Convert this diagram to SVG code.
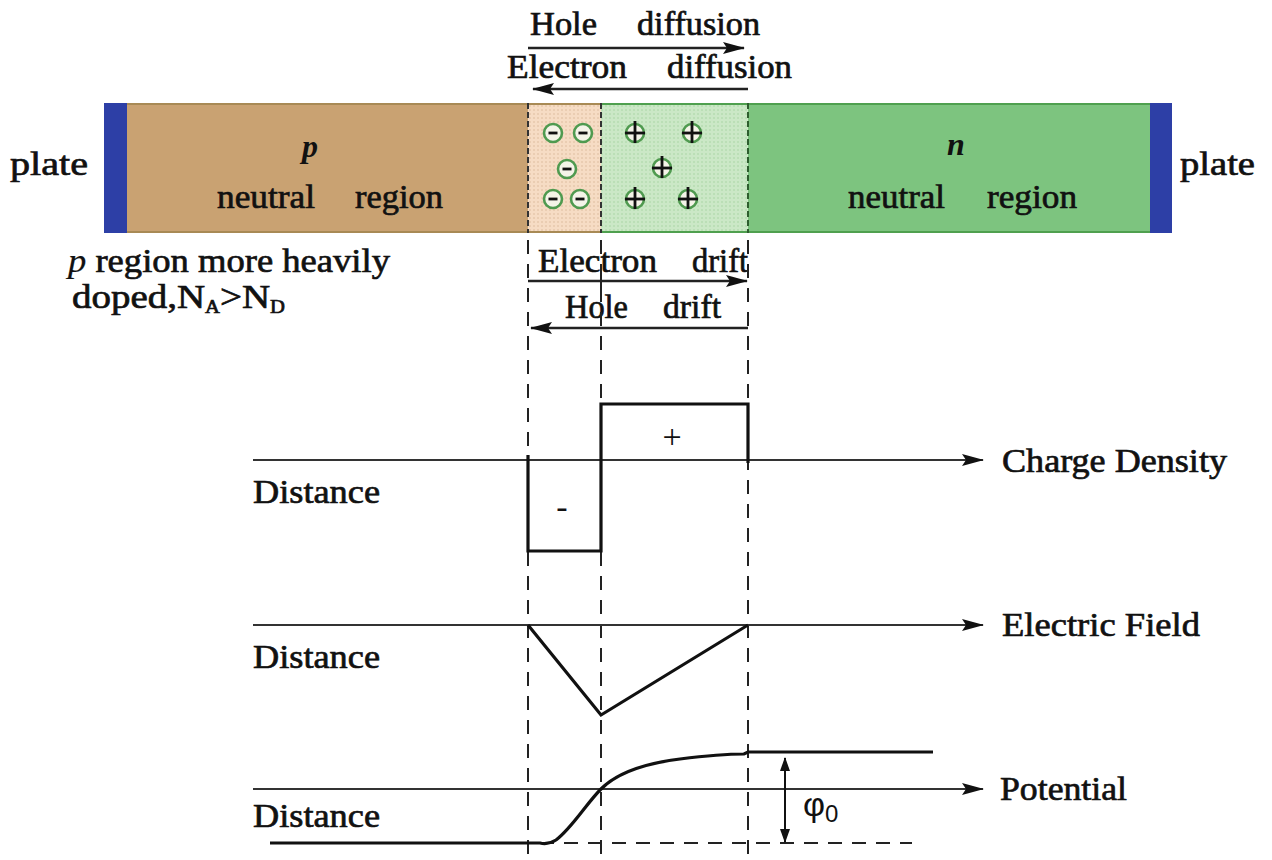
<svg xmlns="http://www.w3.org/2000/svg" width="1272" height="860" viewBox="0 0 1272 860" font-family="'Liberation Serif', 'DejaVu Serif', 'Times New Roman', serif">
<defs>
<style>
text { font-family: 'Liberation Serif', 'DejaVu Serif', 'Times New Roman', serif; font-size: 34px; fill: #111; }
.t { stroke: #111; stroke-width: 0.7; }
.bi { font-weight: bold; font-style: italic; font-size: 32px; }
.ax { stroke: #333; stroke-width: 2; fill: none; }
.plot { stroke: #111; stroke-width: 3.2; fill: none; stroke-linejoin: miter; }
.dash { stroke: #222; stroke-width: 2; stroke-dasharray: 14 10; fill: none; }
.arr { stroke: #222; stroke-width: 2.5; fill: none; }
.ring { fill: #f4f4e8; stroke: #4f9a4f; stroke-width: 2.6; }
.ion { stroke: #111; stroke-width: 2.8; }
</style>
<marker id="ah" viewBox="0 0 22 12" refX="21" refY="6" markerWidth="22" markerHeight="12" markerUnits="userSpaceOnUse" orient="auto-start-reverse">
  <path d="M0,0 L22,6 L0,12 L4,6 z" fill="#111"/>
</marker>
<marker id="ahs" viewBox="0 0 14 10" refX="13" refY="5" markerWidth="14" markerHeight="10" markerUnits="userSpaceOnUse" orient="auto-start-reverse">
  <path d="M0,0 L14,5 L0,10 z" fill="#111"/>
</marker>
<pattern id="dotP" width="4" height="4" patternUnits="userSpaceOnUse">
  <rect width="4" height="4" fill="#f6dcc4"/>
  <circle cx="2" cy="2" r="0.8" fill="#dcbb9c"/>
</pattern>
<pattern id="dotN" width="4" height="4" patternUnits="userSpaceOnUse">
  <rect width="4" height="4" fill="#cbe8c6"/>
  <circle cx="2" cy="2" r="0.8" fill="#a8d4a2"/>
</pattern>
<g id="neg"><circle class="ring" r="9"/><line class="ion" x1="-4.5" y1="0" x2="4.5" y2="0"/></g>
<g id="pos"><circle class="ring" r="9"/><line class="ion" stroke-width="2" x1="-10" y1="0" x2="10" y2="0"/><line class="ion" stroke-width="2" x1="0" y1="-12" x2="0" y2="10"/></g>
</defs>
<rect width="1272" height="860" fill="#ffffff"/>

<g id="junction-bar">
  <rect id="plate-left" x="104" y="103" width="23" height="130" fill="#2d3fa6"/>
  <rect id="p-region" x="127" y="103" width="401" height="130" fill="#c9a272"/>
  <rect id="p-depletion" x="528" y="103" width="73" height="130" fill="url(#dotP)"/>
  <rect id="n-depletion" x="601" y="103" width="147" height="130" fill="url(#dotN)"/>
  <rect id="n-region" x="748" y="103" width="402" height="130" fill="#7dc47f"/>
  <rect id="plate-right" x="1150" y="103" width="22" height="130" fill="#2d3fa6"/>
  <line x1="127" y1="104" x2="601" y2="104" stroke="#a88a55" stroke-width="2"/>
  <line x1="127" y1="232" x2="601" y2="232" stroke="#a88a55" stroke-width="2"/>
  <line x1="601" y1="104" x2="1150" y2="104" stroke="#4fa04f" stroke-width="2"/>
  <line x1="601" y1="232" x2="1150" y2="232" stroke="#4fa04f" stroke-width="2"/>
  <line x1="528" y1="103" x2="528" y2="233" stroke="#333" stroke-width="2" stroke-dasharray="6 3"/>
  <line x1="601" y1="103" x2="601" y2="233" stroke="#333" stroke-width="2" stroke-dasharray="6 3"/>
  <line x1="748" y1="103" x2="748" y2="233" stroke="#2e5e2e" stroke-width="2" stroke-dasharray="6 3"/>
</g>

<g id="ions">
  <use href="#neg" x="553" y="133"/>
  <use href="#neg" x="583" y="133"/>
  <use href="#neg" x="567" y="169"/>
  <use href="#neg" x="553" y="199"/>
  <use href="#neg" x="580" y="199"/>
  <use href="#pos" x="635" y="133"/>
  <use href="#pos" x="692" y="133"/>
  <use href="#pos" x="662" y="168"/>
  <use href="#pos" x="635" y="199"/>
  <use href="#pos" x="688" y="199"/>
</g>

<g id="bar-labels">
  <text class="t" x="10" y="175" textLength="78" lengthAdjust="spacingAndGlyphs">plate</text>
  <text class="t" x="1180" y="175" textLength="75" lengthAdjust="spacingAndGlyphs">plate</text>
  <text class="bi" x="302" y="157">p</text>
  <text class="t" x="217" y="208" textLength="98" lengthAdjust="spacingAndGlyphs">neutral</text>
  <text class="t" x="355" y="208" textLength="88" lengthAdjust="spacingAndGlyphs">region</text>
  <text class="bi" x="947" y="155">n</text>
  <text class="t" x="848" y="208" textLength="97" lengthAdjust="spacingAndGlyphs">neutral</text>
  <text class="t" x="987" y="208" textLength="90" lengthAdjust="spacingAndGlyphs">region</text>
</g>

<g id="flow-labels">
  <text class="t" x="530" y="35" textLength="67" lengthAdjust="spacingAndGlyphs">Hole</text>
  <text class="t" x="637" y="35" textLength="123" lengthAdjust="spacingAndGlyphs">diffusion</text>
  <text class="t" x="507" y="78" textLength="120" lengthAdjust="spacingAndGlyphs">Electron</text>
  <text class="t" x="667" y="78" textLength="125" lengthAdjust="spacingAndGlyphs">diffusion</text>
  <text class="t" x="538" y="272" textLength="119" lengthAdjust="spacingAndGlyphs">Electron</text>
  <text class="t" x="692" y="272" textLength="56" lengthAdjust="spacingAndGlyphs">drift</text>
  <text class="t" x="565" y="318" textLength="63" lengthAdjust="spacingAndGlyphs">Hole</text>
  <text class="t" x="663" y="318" textLength="58" lengthAdjust="spacingAndGlyphs">drift</text>
</g>

<g id="note">
  <text class="t" x="68" y="272" font-size="27" textLength="322" lengthAdjust="spacingAndGlyphs"><tspan font-style="italic" stroke-width="0.2">p</tspan> region more heavily</text>
  <text class="t" x="72" y="308" font-size="27" textLength="213" lengthAdjust="spacingAndGlyphs">doped,N<tspan font-size="18" dy="5">A</tspan><tspan dy="-5">&gt;N</tspan><tspan font-size="18" dy="5">D</tspan></text>
</g>

<g id="connectors">
  <line class="arr" x1="528" y1="48" x2="744" y2="48" marker-end="url(#ah)"/>
  <line class="arr" x1="748" y1="89" x2="533" y2="89" marker-end="url(#ah)"/>
  <line class="arr" x1="528" y1="281" x2="747" y2="281" marker-end="url(#ah)"/>
  <line x1="601" y1="275" x2="601" y2="288" stroke="#222" stroke-width="2"/>
  <line class="arr" x1="748" y1="328" x2="531" y2="328" marker-end="url(#ah)"/>
  <line class="dash" x1="528" y1="240" x2="528" y2="860"/>
  <line class="dash" x1="601" y1="240" x2="601" y2="860"/>
  <line class="dash" x1="748" y1="240" x2="748" y2="860"/>
  <line class="ax" x1="253" y1="460" x2="983" y2="460" marker-end="url(#ah)"/>
  <line class="ax" x1="253" y1="625" x2="983" y2="625" marker-end="url(#ah)"/>
  <line class="ax" x1="253" y1="789" x2="983" y2="789" marker-end="url(#ah)"/>
  <line class="dash" x1="540" y1="843" x2="912" y2="843"/>
  <line x1="785" y1="758" x2="785" y2="842" stroke="#111" stroke-width="2" marker-start="url(#ahs)" marker-end="url(#ahs)"/>
</g>

<g id="charge-density">
  <path class="plot" d="M528,455 L528,551 L601,551 L601,404 L748,404 L748,463"/>
  <text x="672" y="448" font-size="30" text-anchor="middle">+</text>
  <text x="562" y="518" font-size="30" text-anchor="middle">-</text>
  <text class="t" stroke-width="0.3" x="253" y="503" textLength="127" lengthAdjust="spacingAndGlyphs">Distance</text>
  <text class="t" x="1002" y="472" textLength="225" lengthAdjust="spacingAndGlyphs">Charge Density</text>
</g>

<g id="electric-field">
  <path class="plot" d="M528,625 L601,715 L748,625"/>
  <text class="t" stroke-width="0.3" x="253" y="668" textLength="127" lengthAdjust="spacingAndGlyphs">Distance</text>
  <text class="t" x="1002" y="636" textLength="198" lengthAdjust="spacingAndGlyphs">Electric Field</text>
</g>

<g id="potential">
  <path class="plot" d="M270,843 L540,843 Q548,845 556,840 C572,828 586,804 601,789 C616,774 640,764 680,759 C712,755 732,754 744,754 L748,752 L933,752"/>
  <text class="t" stroke-width="0.3" x="253" y="827" textLength="127" lengthAdjust="spacingAndGlyphs">Distance</text>
  <text class="t" x="1000" y="800" textLength="127" lengthAdjust="spacingAndGlyphs">Potential</text>
  <text x="803" y="816" font-size="26" style="font-family:'Liberation Sans', Arial, sans-serif">φ<tspan font-size="24" dy="6">0</tspan></text>
</g>
</svg>
